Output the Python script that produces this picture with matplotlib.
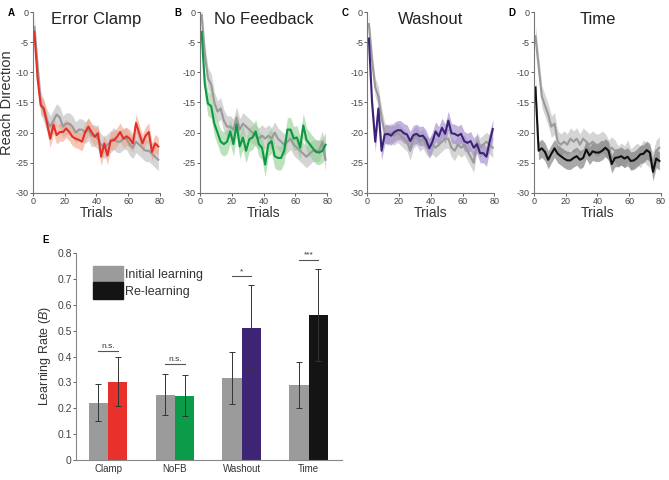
import numpy as np
import matplotlib
matplotlib.use("Agg")
import matplotlib.pyplot as plt
from matplotlib.patches import Patch

plt.rcParams["font.family"] = ["Liberation Sans", "DejaVu Sans"]
plt.rcParams["mathtext.fontset"] = "custom"
plt.rcParams["mathtext.it"] = "Liberation Sans:italic"

# ---- time course data (means at every 2nd trial) ----
trials = list(range(1, 80, 2))

clamp_init = [-2.5, -9, -15, -16.5, -18, -19, -18, -17, -17.5, -19, -18.5, -18.5, -19, -20,
              -19.5, -19.5, -20, -19.5, -20.5, -20.5, -21, -22, -22.5, -22, -21.5, -21, -21.5,
              -21.5, -21, -21, -22, -22.5, -21.5, -22, -22.5, -23, -23, -23.5, -24, -24.5]
clamp_re = [-3.3, -11, -15.5, -16, -18.5, -21, -18.7, -20.4, -19.9, -19.9, -19.3, -19.9, -20.7,
            -21, -21.2, -21.5, -19.9, -19, -19.9, -20.7, -20.1, -24, -21.8, -23.8, -21.3, -21.3,
            -20.7, -19.9, -21, -20.6, -21, -21.8, -18.4, -20.1, -21.8, -20.5, -19.9, -23.2, -21.8, -22.3]

nofb_init = [-0.5, -7, -11, -12, -15, -16.5, -16, -18, -19, -19, -19.5, -17.5, -19.5, -18.5,
             -19, -19.5, -20, -20.5, -21, -20.5, -21, -20.5, -21, -20, -21, -21.5, -22, -21.5,
             -21, -22, -22.5, -23, -23.5, -24, -23.5, -23, -23, -23, -21.5, -24.5]
nofb_re = [-3.3, -12, -15.2, -15.6, -18.5, -20, -21.5, -21.9, -21.5, -19.8, -21.9, -18.6, -22.3,
           -20.8, -23, -21.1, -20.8, -19.8, -21.9, -22.5, -25.3, -21.9, -21.4, -23.9, -24.2, -24.2,
           -23, -19.5, -19.5, -21, -20.8, -22.5, -18.8, -21.2, -21.9, -22.6, -23.2, -23.3, -23, -22]

wash_init = [-2, -8, -12.5, -14, -17.5, -20, -20.5, -20, -20.5, -20, -20.5, -21, -21.5, -23,
             -21, -20.5, -21.5, -21, -22, -22.5, -22, -22.5, -22, -21.5, -21, -21, -22.5, -23,
             -22, -22.5, -22, -23, -24, -25, -21.5, -22.5, -22, -21.5, -22, -22.5]
wash_re = [-4.4, -15, -21.5, -16, -23, -20.3, -20.2, -20.5, -19.9, -19.6, -19.6, -20.1, -20.3,
           -21.4, -20.4, -20.2, -20.6, -20.5, -21.2, -22.6, -21.5, -19.8, -20.6, -19.2, -20.2, -18,
           -20.1, -20.2, -20.5, -20.2, -21.4, -21.7, -21.4, -22.5, -21.9, -23.4, -23.4, -24, -21.5, -19.4]

time_init = [-4, -9, -14, -15.5, -17, -19, -18.5, -21.5, -22, -21.5, -22, -21, -21.5, -21, -22,
             -21, -21.5, -22, -21.5, -22, -22, -21.5, -22, -23, -22.5, -23, -24, -23.5, -24, -23,
             -24.5, -24, -23.5, -24, -23, -23.5, -24, -25, -23, -22.5]
time_re = [-12.5, -23, -22.6, -23.2, -24.5, -23.5, -22.6, -23.5, -23.9, -24.3, -24.6, -24.6, -24.2,
           -23.9, -24.5, -24.2, -22.8, -23.8, -23.1, -23.3, -23.3, -23, -22.5, -23, -25.2, -24.2,
           -24.1, -23.9, -24.3, -24, -24.7, -24.6, -24.2, -23.6, -23.5, -22.9, -23.3, -26.5, -24.3, -24.7]

# approximate SEM half-widths of shaded bands
sem_init = [1.8, 1.8, 1.6, 1.8]
sem_re = [1.5, 2.0, 1.6, 1.5]

titles = ["Error Clamp", "No Feedback", "Washout", "Time"]
letters = ["A", "B", "C", "D"]
init_series = [clamp_init, nofb_init, wash_init, time_init]
re_series = [clamp_re, nofb_re, wash_re, time_re]
line_cols = ["#e3302a", "#0e9747", "#3c2378", "#111111"]
band_cols = ["#f3a083", "#8fd08f", "#9b82c9", "#6f6f6f"]

# ---- learning rate data ----
conditions = ["Clamp", "NoFB", "Washout", "Time"]
rate_init = [0.222, 0.253, 0.316, 0.290]
rate_init_err = [0.070, 0.080, 0.100, 0.090]
rate_re = [0.302, 0.249, 0.512, 0.562]
rate_re_err = [0.095, 0.080, 0.163, 0.178]
sig_labels = ["n.s.", "n.s.", "*", "***"]
sig_heights = [0.422, 0.373, 0.71, 0.775]
bar_cols = ["#e8312b", "#0b9b49", "#3d2474", "#141414"]

fig = plt.figure(figsize=(6.69, 4.8), dpi=100)
fig.patch.set_facecolor("white")

lefts = [0.049, 0.299, 0.549, 0.798]
for i in range(4):
    ax = fig.add_axes([lefts[i], 0.598, 0.19, 0.377])
    t = np.array(trials)
    gi = np.array(init_series[i])
    ri = np.array(re_series[i])
    ax.fill_between(t, gi - sem_init[i], gi + sem_init[i], color="#c8c8c8", alpha=0.75, lw=0)
    ax.fill_between(t, ri - sem_re[i], ri + sem_re[i], color=band_cols[i], alpha=0.6, lw=0)
    ax.plot(t, gi, color="#9a9a9a", lw=1.5)
    ax.plot(t, ri, color=line_cols[i], lw=1.5)
    ax.set_xlim(0, 80)
    ax.set_ylim(-30, 0)
    ax.set_xticks([0, 20, 40, 60, 80])
    ax.set_yticks([0, -5, -10, -15, -20, -25, -30])
    ax.set_yticklabels(["0", "-5", "-10", "-15", "-20", "-25", "-30"])
    for s in ["top", "right"]:
        ax.spines[s].set_visible(False)
    for s in ["left", "bottom"]:
        ax.spines[s].set_color("#777777")
        ax.spines[s].set_linewidth(0.8)
    ax.tick_params(labelsize=6.5, length=2, width=0.6, colors="#444444", pad=1)
    ax.set_xlabel("Trials", fontsize=10, color="#333333", labelpad=0)
    ax.set_title(titles[i], fontsize=12, color="#222222", pad=-2, y=0.95)
    fig.text(lefts[i] - 0.038, 0.972, letters[i], fontsize=7, fontweight="bold", va="center")
    if i == 0:
        ax.set_ylabel("Reach Direction", fontsize=10.5, color="#333333", labelpad=1)

# ---- bar chart ----
bx = fig.add_axes([0.1136, 0.0417, 0.3976, 0.431])
x = np.arange(len(conditions))
w = 0.29
bx.bar(x - w / 2, rate_init, w, color="#9b9b9b", yerr=rate_init_err,
       error_kw=dict(ecolor="#333333", elinewidth=0.7, capsize=2, capthick=0.7))
bx.bar(x + w / 2, rate_re, w, color=bar_cols, yerr=rate_re_err,
       error_kw=dict(ecolor="#333333", elinewidth=0.7, capsize=2, capthick=0.7))
for i in range(4):
    bx.plot([x[i] - w / 2, x[i] + w / 2], [sig_heights[i], sig_heights[i]], color="#555555", lw=0.8)
    bx.text(x[i], sig_heights[i] + 0.003, sig_labels[i], ha="center", va="bottom",
            fontsize=6, color="#333333")
bx.set_xlim(-0.48, 3.5)
bx.set_ylim(0, 0.8)
bx.set_yticks(np.arange(0, 0.81, 0.1))
bx.set_yticklabels(["0"] + [f"{v:.1f}" for v in np.arange(0.1, 0.81, 0.1)])
bx.set_xticks(x)
bx.set_xticklabels(conditions)
for s in ["top", "right"]:
    bx.spines[s].set_visible(False)
for s in ["left", "bottom"]:
    bx.spines[s].set_color("#888888")
    bx.spines[s].set_linewidth(0.8)
bx.tick_params(axis="y", labelsize=7.5, length=2, width=0.6, colors="#444444", pad=1)
bx.tick_params(axis="x", labelsize=7, length=0, colors="#333333", pad=3)
bx.set_ylabel(r"Learning Rate ($B$)", fontsize=9, color="#333333", labelpad=3)
handles = [Patch(facecolor="#9b9b9b", edgecolor="#9b9b9b"),
           Patch(facecolor="#141414", edgecolor="#141414")]
bx.legend(handles, ["Initial learning", "Re-learning"], loc="upper left",
          bbox_to_anchor=(0.035, 0.975), frameon=False, fontsize=9,
          handlelength=2.4, handleheight=1.6, handletextpad=0.2, labelspacing=0.05,
          labelcolor="#333333", borderaxespad=0.2)
fig.text(0.063, 0.5, "E", fontsize=7, fontweight="bold", va="center")

fig.savefig("out.png", dpi=100)
